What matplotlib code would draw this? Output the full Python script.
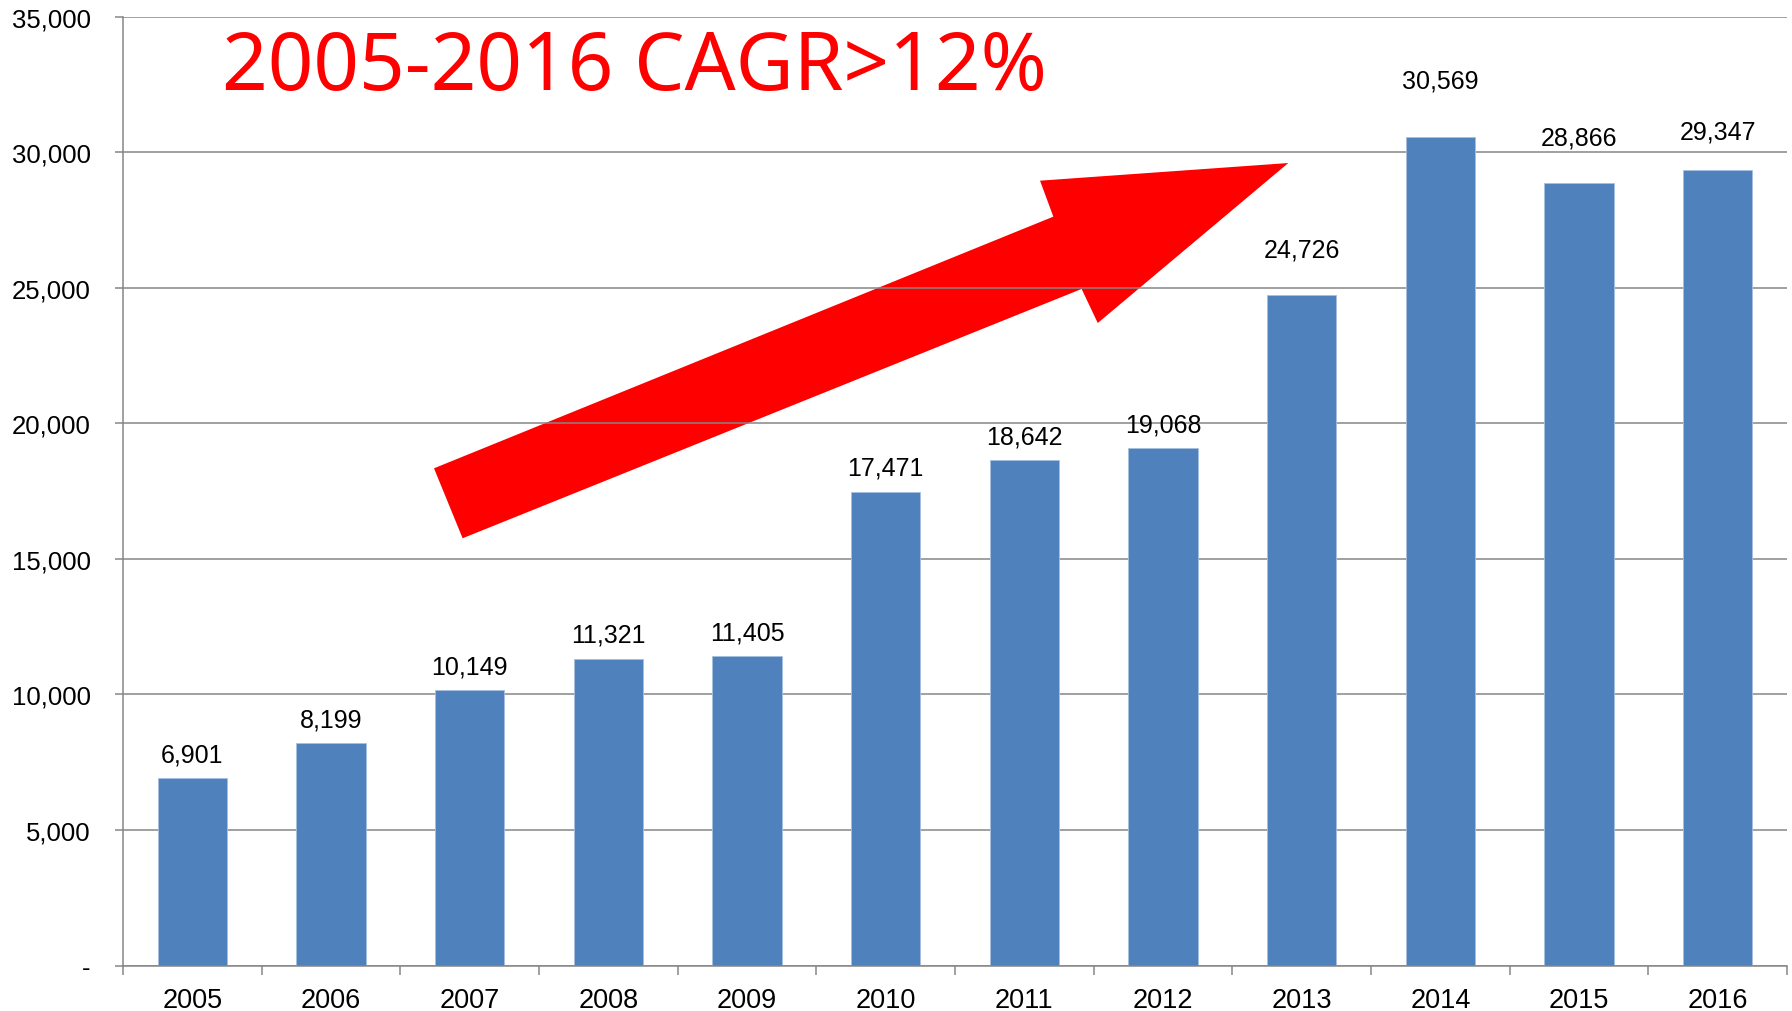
import matplotlib
matplotlib.use("Agg")
import matplotlib.pyplot as plt
from matplotlib.patches import Polygon
from matplotlib.ticker import FuncFormatter, FixedLocator
import numpy as np

# ---- data ----
years = ["2005", "2006", "2007", "2008", "2009", "2010",
         "2011", "2012", "2013", "2014", "2015", "2016"]
values = [6901, 8199, 10149, 11321, 11405, 17471,
          18642, 19068, 24726, 30569, 28866, 29347]
y_ticks = [0, 5000, 10000, 15000, 20000, 25000, 30000, 35000]
title_text = "2005-2016 CAGR>12%"

# label gap above bar top (pixels), as placed in the original
label_gap_px = [17, 17, 17, 17, 17, 17, 17, 17, 38.8, 49.3, 38.8, 31.5]

# ---- style ----
BAR = "#4F81BD"
GRID = "#868686"
RED = "#FF0000"
plt.rcParams["font.family"] = ["Liberation Sans", "DejaVu Sans"]

W, H = 1792, 1012
fig = plt.figure(figsize=(W / 100, H / 100), dpi=100)
ax = fig.add_axes([123 / W, 1 - 966.5 / H, (1787 - 123) / W, (966.5 - 17.5) / H])

x = np.arange(len(years))
ax.bar(x, values, width=0.5, color=BAR, edgecolor="#A7C0E0", linewidth=0.6, zorder=2)

for xi, v, g in zip(x, values, label_gap_px):
    ax.annotate(f"{v:,}", (xi, v), xytext=(0, g * 0.72), textcoords="offset points",
                ha="center", va="baseline", fontsize=18, color="black", zorder=3)

ax.set_xlim(-0.5, len(years) - 0.5)
ax.set_ylim(0, 35000)

# y axis
ax.yaxis.set_major_locator(FixedLocator(y_ticks))
ax.yaxis.set_major_formatter(FuncFormatter(lambda v, p: "-" if v == 0 else f"{int(v):,}"))
ax.tick_params(axis="y", direction="out", length=5.8, width=1.1, color=GRID,
               labelsize=18.5, pad=17.5)
ax.grid(axis="y", color=GRID, linewidth=1.1)
ax.set_axisbelow(True)

# x axis
ax.set_xticks(x)
ax.set_xticklabels(years)
ax.set_xticks(np.arange(-0.5, len(years) + 0.5, 1), minor=True)
ax.tick_params(axis="x", which="major", length=0, labelsize=19.5, pad=15.5)
ax.tick_params(axis="x", which="minor", direction="out", length=6.5, width=1.1, color=GRID)

for s in ["top", "right"]:
    ax.spines[s].set_visible(False)
for s in ["left", "bottom"]:
    ax.spines[s].set_color(GRID)
    ax.spines[s].set_linewidth(1.1)
    ax.spines[s].set_zorder(2.5)

# red arrow (axes fraction)
arrow_pts = [(0.1869, 0.5239), (0.5591, 0.7891), (0.5511, 0.8270), (0.7003, 0.8456),
             (0.5858, 0.6770), (0.5761, 0.7129), (0.2041, 0.4502)]
ax.add_patch(Polygon(arrow_pts, closed=True, facecolor=RED, edgecolor="none",
                     transform=ax.transAxes, zorder=0.2))

# title
fig.text(222 / W, 1 - 90 / H, title_text, color=RED, fontsize=57.5,
         family=["Noto Sans", "DejaVu Sans"], ha="left", va="baseline")

fig.savefig("out.png", dpi=100)
